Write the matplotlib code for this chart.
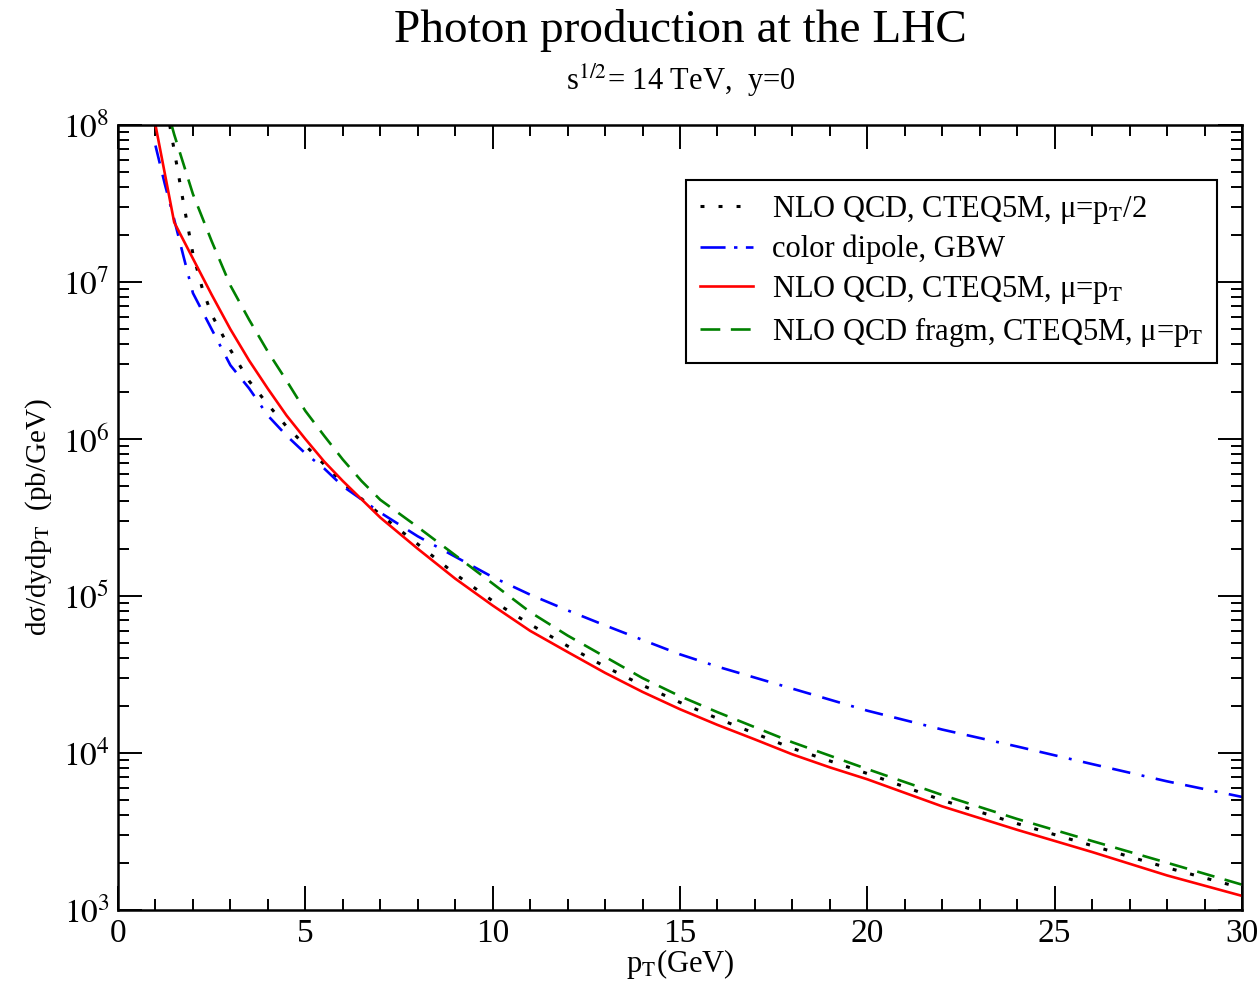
import matplotlib
matplotlib.use("Agg")
import matplotlib.pyplot as plt
from matplotlib.lines import Line2D
from matplotlib.ticker import MultipleLocator, LogLocator, NullFormatter, FixedLocator

plt.rcParams['font.family'] = ['Liberation Serif', 'DejaVu Serif']
plt.rcParams['mathtext.fontset'] = 'stix'

# ---- data ----
pt_red = [1.0, 1.5, 2, 2.5, 3, 3.5, 4, 4.5, 5, 5.5, 6, 7, 8, 9, 10, 11, 12, 13, 14, 15, 16, 17,
          18, 19, 20, 22, 24, 26, 28, 30]
y_red = [1.0e8, 2.4e7, 1.41e7, 8.3e6, 5.0e6, 3.16e6, 2.09e6, 1.41e6, 1.0e6, 7.2e5, 5.4e5, 3.16e5,
         2.0e5, 1.29e5, 8.7e4, 6.0e4, 4.4e4, 3.24e4, 2.45e4, 1.9e4, 1.51e4, 1.22e4, 9.8e3, 8.1e3,
         6.8e3, 4.57e3, 3.24e3, 2.34e3, 1.66e3, 1.23e3]

pt_black = [1.38, 1.5, 1.75, 2, 2.25, 2.5, 3, 3.5, 4, 4.5, 5, 5.5, 6, 7, 8, 9, 10, 11, 12, 13, 14,
            15, 16, 18, 20, 22, 24, 26, 28, 30]
y_black = [1.0e8, 6.9e7, 3.16e7, 1.51e7, 9.1e6, 6.2e6, 3.7e6, 2.34e6, 1.66e6, 1.2e6, 9.1e5, 6.9e5,
           5.25e5, 3.3e5, 2.14e5, 1.38e5, 9.3e4, 6.6e4, 4.8e4, 3.55e4, 2.7e4, 2.1e4, 1.66e4,
           1.07e4, 7.4e3, 5.0e3, 3.55e3, 2.57e3, 1.86e3, 1.38e3]

pt_blue = [1.0, 1.25, 1.5, 1.75, 2, 2.5, 3, 3.5, 4, 4.5, 5, 5.5, 6, 7, 8, 9, 10, 11, 12, 13, 14, 15,
           16, 18, 20, 22, 24, 26, 28, 30]
y_blue = [7.4e7, 4.2e7, 2.5e7, 1.45e7, 8.5e6, 5.0e6, 2.95e6, 2.1e6, 1.41e6, 1.05e6, 8.1e5, 6.5e5,
          5.0e5, 3.4e5, 2.4e5, 1.78e5, 1.32e5, 1.02e5, 8.1e4, 6.5e4, 5.25e4, 4.25e4, 3.55e4,
          2.57e4, 1.86e4, 1.41e4, 1.1e4, 8.5e3, 6.6e3, 5.25e3]

pt_green = [1.43, 1.5, 2, 2.5, 3, 3.5, 4, 4.5, 5, 5.5, 6, 6.5, 7, 8, 9, 10, 11, 12, 13, 14, 15, 16,
            18, 20, 22, 24, 26, 28, 30]
y_green = [1.0e8, 8.7e7, 3.63e7, 1.82e7, 9.5e6, 5.75e6, 3.6e6, 2.35e6, 1.51e6, 1.05e6, 7.4e5,
           5.4e5, 4.1e5, 2.75e5, 1.82e5, 1.2e5, 7.9e4, 5.6e4, 4.1e4, 3.0e4, 2.3e4, 1.82e4,
           1.17e4, 7.9e3, 5.4e3, 3.8e3, 2.75e3, 2.0e3, 1.45e3]

labels = ['NLO QCD, CTEQ5M, μ=p$_\\mathrm{T}$/2',
          'color dipole, GBW',
          'NLO QCD, CTEQ5M, μ=p$_\\mathrm{T}$',
          'NLO QCD fragm, CTEQ5M, μ=p$_\\mathrm{T}$']

xticks = [0, 5, 10, 15, 20, 25, 30]
ydecades = [1e3, 1e4, 1e5, 1e6, 1e7, 1e8]

# ---- figure ----
fig = plt.figure(figsize=(12.6, 9.83), dpi=100)
ax = fig.add_axes([118/1260, 1 - 910/983, (1242-118)/1260, (910-125)/983])

lw = 1.9
dot_style = dict(color='black', lw=2.2, dashes=(1.3, 4.6))
blue_style = dict(color='#0000ff', lw=lw)
red_style = dict(color='#ff0000', lw=lw)
green_style = dict(color='#008000', lw=lw, dashes=(6.8, 4.0))

ax.plot(pt_black, y_black, **dot_style)
ax.plot(pt_blue, y_blue, dashes=(7.0, 4.4, 7.0, 4.4, 1.1, 4.4), **blue_style)
ax.plot(pt_red, y_red, **red_style)
ax.plot(pt_green, y_green, **green_style)

handles = [Line2D([], [], **dot_style),
           Line2D([], [], dashes=(9.5, 3.2, 1.3, 3.2), **blue_style),
           Line2D([], [], **red_style),
           Line2D([], [], color='#008000', lw=lw, dashes=(7.5, 4.0))]

ax.set_yscale('log')
ax.set_xlim(0, 30)
ax.set_ylim(1e3, 1e8)

ax.xaxis.set_major_locator(FixedLocator(xticks))
ax.xaxis.set_minor_locator(MultipleLocator(1))
ax.yaxis.set_major_locator(FixedLocator(ydecades))
ax.yaxis.set_minor_locator(LogLocator(base=10, subs=range(2, 10), numticks=20))
ax.yaxis.set_minor_formatter(NullFormatter())
ax.set_yticklabels([r'$10^{%d}$' % k for k in range(3, 9)])

ax.tick_params(which='both', direction='in', top=True, right=True, width=1.4, colors='black')
ax.tick_params(which='major', length=17, labelsize=24, pad=6)
ax.tick_params(which='minor', length=8)
for s in ax.spines.values():
    s.set_linewidth(1.8)

ax.set_xlabel(r'p$_\mathrm{T}$(GeV)', fontsize=22, labelpad=-1)
ax.set_ylabel('dσ/dydp$_\\mathrm{T}$  (pb/GeV)', fontsize=21, labelpad=6)

fig.text(0.54, 1 - 30/983, 'Photon production at the LHC', ha='center', va='center', fontsize=34)
fig.text(0.54, 1 - 80/983, r's$^{1/2}$= 14 TeV,  y=0', ha='center', va='center', fontsize=22)

leg = ax.legend(handles=handles, labels=labels, loc='upper right',
                bbox_to_anchor=((1217-118)/1124, 1 - (180-125)/785),
                fontsize=22, frameon=True, fancybox=False, edgecolor='black', framealpha=1,
                handlelength=1.75, handletextpad=0.6, borderpad=0.45, labelspacing=0.3,
                borderaxespad=0)
leg.get_frame().set_linewidth(1.5)

fig.savefig('out.png', dpi=100)
